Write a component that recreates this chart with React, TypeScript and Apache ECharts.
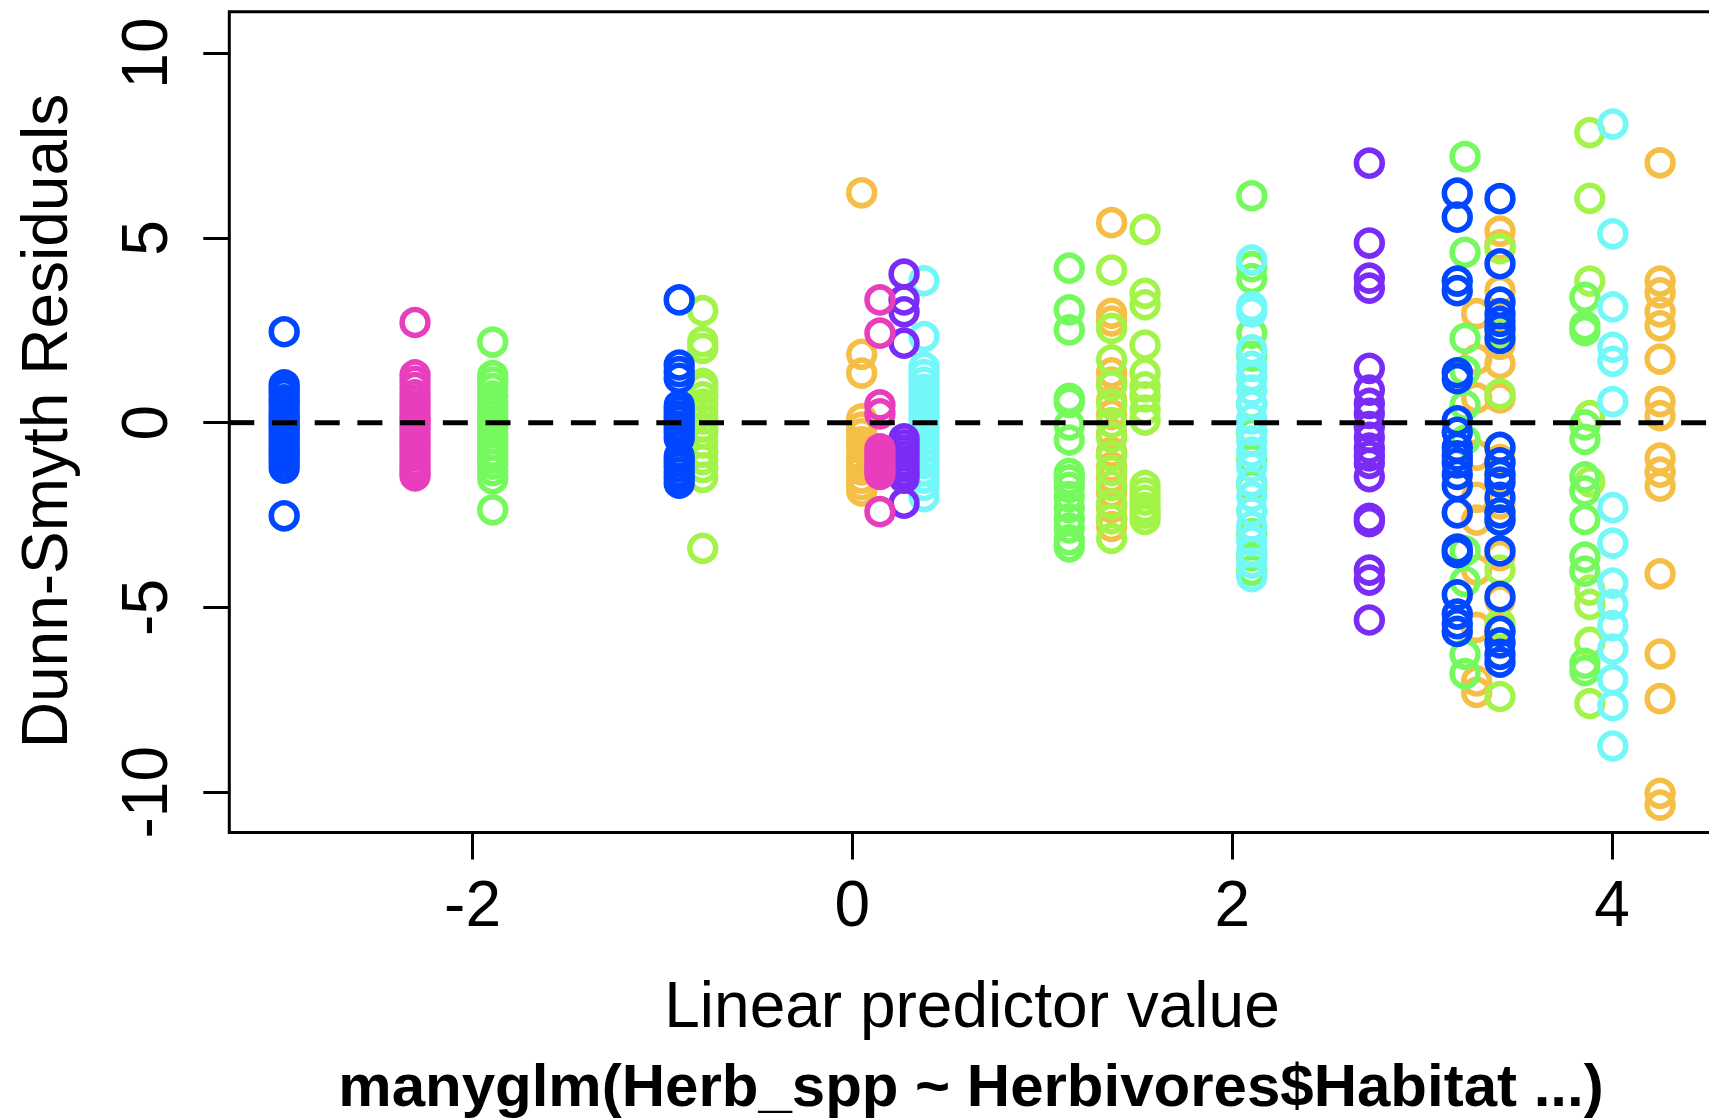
import React, { useEffect, useRef } from "react";
import * as echarts from "echarts";

// ---- axis ticks ----
const xTicks = [-2, 0, 2, 4];
const yTicks = [-10, -5, 0, 5, 10];
const xRange = [-3.281, 4.54];
const yRange = [-11.09, 11.12];

// ---- colours (one per species colour) ----
const colOrange = "#F5BF45";
const colYellowGreen = "#A2F448";
const colGreen = "#74FA5C";
const colCyan = "#72F8F8";
const colPurple = "#7A2BF5";
const colPink = "#E83DBD";
const colBlue = "#0047FF";

// ---- linear predictor positions (x) and Dunn-Smyth residuals (y) ----
const orangeX = [0.049, 1.365, 3.287, 3.41, 4.253];
const orangeY = [
  [6.22, 1.85, 1.34, 0.1, -0.12, -0.3, -0.52, -0.7, -0.93, -1.1, -1.28, -1.5, -1.68, -1.85],
  [5.41, 2.96, 2.75, 1.35, 1.1, 0.6, 0.22, -0.3, -0.8, -1.2, -1.5, -1.9, -2.3, -2.6, -2.81],
  [2.95, 1.71, 0.67, -0.88, -2.02, -2.64, -3.99, -5.54, -6.99, -7.3],
  [5.18, 4.81, 3.57, 2.12, 1.6, 0.67, -1.0, -2.2, -3.6, -4.8, -5.6],
  [7.03, 3.83, 3.51, 3.0, 2.62, 1.72, 0.57, 0.19, -0.96, -1.34, -1.72, -4.09, -6.26, -7.47, -10.03, -10.35],
];

const yellowGreenX = [-0.788, 1.365, 1.541, 3.41, 3.883];
const yellowGreenY = [
  [3.03, 2.19, 2.01, 1.06, 0.93, 0.7, 0.5, 0.28, 0.1, -0.12, -0.3, -0.55, -0.8, -1.0, -1.22, -1.48, -3.4],
  [4.13, 2.55, 1.7, 1.0, 0.5, 0.0, -0.4, -0.9, -1.3, -1.7, -2.2, -2.6, -3.13],
  [5.23, 3.5, 3.19, 2.1, 1.34, 0.97, 0.7, 0.34, 0.07, -1.7, -1.9, -2.1, -2.3, -2.45, -2.62],
  [4.71, 2.43, 0.78, -0.67, -1.4, -2.64, -3.99, -5.44, -7.41],
  [7.85, 6.07, 3.83, 0.19, -1.6, -4.53, -4.92, -5.94, -7.6],
];

const greenX = [-1.894, 1.142, 2.103, 3.226, 3.857];
const greenY = [
  [2.18, 1.27, 1.1, 0.92, 0.72, 0.52, 0.36, 0.2, 0.05, -0.1, -0.26, -0.44, -0.6, -0.8, -0.96, -1.12, -1.3, -1.52, -2.36],
  [4.18, 3.05, 2.51, 0.66, 0.55, -0.06, -0.47, -1.37, -1.55, -1.75, -2.0, -2.3, -2.6, -2.85, -3.17, -3.36],
  [6.14, 4.22, 3.9, 2.42, 1.8, 1.2, 0.5, -0.3, -1.0, -1.7, -2.4, -3.0, -3.6, -4.0],
  [7.2, 4.61, 2.28, 1.4, 0.47, -0.47, -3.47, -4.3, -6.27, -6.79],
  [3.39, 2.62, 2.49, -0.06, -0.45, -1.47, -1.85, -2.62, -3.64, -4.02, -6.51, -6.71],
];

const cyanX = [0.377, 2.103, 4.004];
const cyanY = [
  [3.84, 2.33, 1.5, 1.3, 1.1, 0.9, 0.7, 0.5, 0.3, 0.1, -0.1, -0.3, -0.5, -0.7, -0.9, -1.1, -1.3, -1.5, -1.7, -2.0],
  [4.4, 3.14, 3.0, 1.97, 1.52, 1.24, 0.88, 0.48, 0.1, -0.2, -0.5, -0.8, -1.2, -1.6, -2.0, -2.4, -2.8, -3.2, -3.5, -3.8, -4.17],
  [8.08, 5.11, 3.13, 2.04, 1.66, 0.57, -2.3, -3.26, -4.34, -4.92, -5.49, -6.13, -6.96, -7.66, -8.75],
];

const purpleX = [0.272, 2.722];
const purpleY = [
  [4.02, 3.32, 3.0, 2.15, -0.44, -0.6, -0.75, -0.9, -1.05, -1.2, -1.35, -1.5, -2.18],
  [7.02, 4.86, 3.91, 3.64, 1.47, 0.88, 0.52, 0.25, -0.11, -0.4, -0.69, -0.9, -1.1, -1.46, -2.59, -2.68, -3.99, -4.26, -5.34],
];

const pinkX = [-2.303, 0.145];
const pinkY = [
  [2.71, 1.29, 1.12, 0.95, 0.75, 0.6, 0.45, 0.3, 0.15, 0.05, -0.05, -0.18, -0.32, -0.46, -0.6, -0.75, -0.9, -1.05, -1.2, -1.32, -1.44],
  [3.32, 2.42, 0.48, 0.24, -0.71, -0.85, -0.98, -1.1, -1.2, -1.3, -1.4, -2.41],
];

const blueX = [-2.992, -0.912, 3.185, 3.41];
const blueY = [
  [2.46, 1.02, 0.9, 0.78, 0.62, 0.5, 0.35, 0.22, 0.1, 0.0, -0.08, -0.2, -0.33, -0.45, -0.58, -0.7, -0.82, -0.95, -1.08, -1.23, -2.52],
  [3.32, 1.56, 1.38, 1.2, 0.46, 0.32, 0.18, 0.05, -0.1, -0.25, -0.42, -0.92, -1.05, -1.2, -1.35, -1.5, -1.64],
  [6.21, 5.56, 3.83, 3.57, 1.35, 1.19, 0.05, -0.26, -0.67, -0.9, -1.09, -1.4, -1.71, -2.44, -3.42, -3.52, -4.66, -5.18, -5.44, -5.65],
  [6.06, 4.3, 3.26, 2.95, 2.74, 2.54, 2.28, -0.67, -1.09, -1.4, -1.61, -2.02, -2.44, -2.64, -3.47, -4.71, -5.65, -5.96, -6.27, -6.48],
];

const xTitle = "Linear predictor value";
const yTitle = "Dunn-Smyth Residuals";
const subTitle = "manyglm(Herb_spp ~ Herbivores$Habitat ...)";

const FONT = "'Liberation Sans', Arial, Helvetica, sans-serif";

function toPoints(xs: number[], ys: number[][]) {
  const out: number[][] = [];
  xs.forEach((x, i) => ys[i].forEach((y) => out.push([x, y])));
  return out;
}

function scatter(name: string, color: string, xs: number[], ys: number[][]) {
  return {
    name,
    type: "scatter",
    data: toPoints(xs, ys),
    symbol: "circle",
    symbolSize: 25.8,
    itemStyle: { color: "rgba(0,0,0,0)", borderColor: color, borderWidth: 5.6, opacity: 1 },
    emphasis: { disabled: true },
    silent: true,
  };
}

export default function App() {
  const ref = useRef<HTMLDivElement>(null);
  useEffect(() => {
    if (!ref.current) return;
    const chart = echarts.init(ref.current, undefined, { renderer: "svg" });
    chart.setOption({
      animation: false,
      backgroundColor: "#ffffff",
      grid: {
        left: 229.3,
        top: 11.7,
        right: 45.4,
        bottom: 285.5,
        show: true,
        borderColor: "#000",
        borderWidth: 3,
        backgroundColor: "rgba(0,0,0,0)",
        containLabel: false,
      },
      xAxis: {
        type: "value",
        min: xRange[0],
        max: xRange[1],
        splitLine: { show: false },
        axisLine: { show: false, onZero: false },
        axisTick: { show: true, inside: false, length: 27, lineStyle: { color: "#000", width: 3 }, customValues: xTicks },
        axisLabel: {
          customValues: xTicks,
          fontSize: 64,
          fontFamily: FONT,
          color: "#000",
          margin: 71,
          verticalAlign: "middle",
          align: "center",
          showMinLabel: true,
          showMaxLabel: true,
        },
      },
      yAxis: {
        type: "value",
        min: yRange[0],
        max: yRange[1],
        splitLine: { show: false },
        axisLine: { show: false, onZero: false },
        axisTick: { show: true, inside: false, length: 26, lineStyle: { color: "#000", width: 3 }, customValues: yTicks },
        axisLabel: {
          customValues: yTicks,
          rotate: 90,
          fontSize: 64,
          fontFamily: FONT,
          color: "#000",
          margin: 84,
          align: "center",
          verticalAlign: "middle",
          showMinLabel: true,
          showMaxLabel: true,
        },
      },
      graphic: [
        {
          type: "text",
          x: 972,
          y: 1005,
          style: { text: xTitle, fontSize: 64, fontFamily: FONT, fill: "#000", align: "center", verticalAlign: "middle" },
        },
        {
          type: "text",
          x: 971,
          y: 1085,
          style: { text: subTitle, fontSize: 60, fontWeight: "bold", fontFamily: FONT, fill: "#000", align: "center", verticalAlign: "middle" },
        },
        {
          type: "text",
          x: 45,
          y: 421,
          rotation: Math.PI / 2,
          style: { text: yTitle, fontSize: 64, fontFamily: FONT, fill: "#000", align: "center", verticalAlign: "middle" },
        },
      ],
      series: [
        scatter("orange", colOrange, orangeX, orangeY),
        scatter("yellowgreen", colYellowGreen, yellowGreenX, yellowGreenY),
        scatter("green", colGreen, greenX, greenY),
        scatter("cyan", colCyan, cyanX, cyanY),
        scatter("purple", colPurple, purpleX, purpleY),
        scatter("pink", colPink, pinkX, pinkY),
        scatter("blue", colBlue, blueX, blueY),
        {
          name: "zero",
          type: "line",
          data: [
            [xRange[0], 0],
            [xRange[1], 0],
          ],
          symbol: "none",
          silent: true,
          z: 10,
          lineStyle: { color: "#000", width: 5, type: [25, 17.7], cap: "butt" },
        },
      ],
    });
    return () => chart.dispose();
  }, []);
  return (
    <div style={{ position: "fixed", left: 0, top: 0, width: "100vw", height: "100vh", overflow: "hidden", background: "#fff" }}>
      <div ref={ref} style={{ width: 1760, height: 1118 }} />
    </div>
  );
}
